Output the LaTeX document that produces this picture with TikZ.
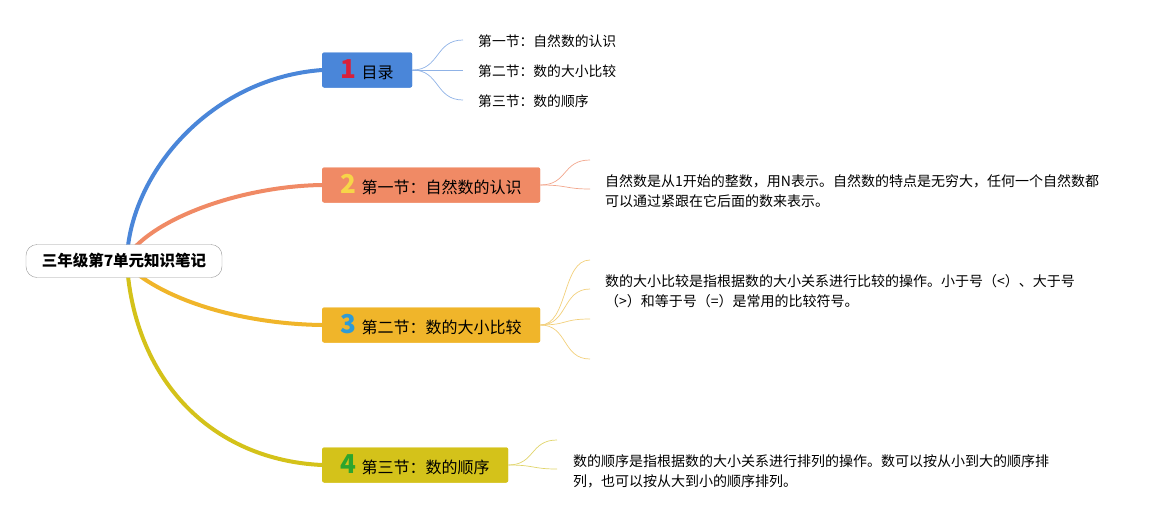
\documentclass[tikz,border=0pt]{standalone}
\usepackage{fontspec}
\setmainfont{Noto Sans CJK SC}
\usetikzlibrary{positioning}
\definecolor{cblue}{HTML}{4A86D9}
\definecolor{corange}{HTML}{F08A65}
\definecolor{cyellow}{HTML}{F0B52A}
\definecolor{colive}{HTML}{D4C21A}
\definecolor{nred}{HTML}{D9203A}
\definecolor{nyellow}{HTML}{F7D548}
\definecolor{nblue}{HTML}{2E9BD6}
\definecolor{ngreen}{HTML}{2DA52D}
\definecolor{lblue}{HTML}{8FB2E6}
\definecolor{lorange}{HTML}{F2A68C}
\definecolor{lyellow}{HTML}{F2CF7A}
\definecolor{lolive}{HTML}{E0D46A}
\tikzset{
  topic/.style={rounded corners=2pt, minimum height=35pt, inner xsep=4pt, font=\fontsize{16}{18}\selectfont, text=black, anchor=west},
  branch/.style={line width=4pt, line cap=round},
  sub/.style={line width=0.7pt},
  leaf/.style={font=\fontsize{13.8}{16}\selectfont, anchor=west, inner sep=0pt},
  desc/.style={font=\fontsize{14}{20}\selectfont, anchor=north west, inner sep=0pt, align=left},
}
\newcommand{\bignum}[2]{{\color{#1}\fontsize{26}{26}\selectfont\bfseries #2}\hspace{5pt}}
\begin{document}
\begin{tikzpicture}[x=1pt,y=-1pt]
\useasboundingbox (0,0) rectangle (1165,520);
% central
\coordinate (cs1) at (128,246);
\coordinate (cs2) at (136,246);
\coordinate (cs3) at (140,276);
\coordinate (cs4) at (128,276);
% topics
\node[topic, fill=cblue, minimum width=90pt] (t1) at (322,70) {\bignum{nred}{1}目录};
\node[topic, fill=corange, minimum width=218pt] (t2) at (322,185) {\bignum{nyellow}{2}第一节：自然数的认识};
\node[topic, fill=cyellow, minimum width=218pt] (t3) at (322,325) {\bignum{nblue}{3}第二节：数的大小比较};
\node[topic, fill=colive, minimum width=186pt] (t4) at (322,465) {\bignum{ngreen}{4}第三节：数的顺序};
% branches
\draw[branch, cblue] (cs1) .. controls (138,165) and (215,78) .. (t1.west);
\draw[branch, corange] (cs2) .. controls (170,212) and (250,186) .. (t2.west);
\draw[branch, cyellow] (cs3) .. controls (180,305) and (250,324) .. (t3.west);
\draw[branch, colive] (cs4) .. controls (140,385) and (215,460) .. (t4.west);
\node[draw=black!40, fill=white, rounded corners=11pt, minimum width=196pt, minimum height=33pt, font=\fontsize{15.5}{17}\selectfont\bfseries] (root) at (124,261) {三年级第7单元知识笔记};
% re-draw topics on top of branch ends
\node[topic, fill=cblue, minimum width=90pt] at (322,70) {\bignum{nred}{1}目录};
\node[topic, fill=corange, minimum width=218pt] at (322,185) {\bignum{nyellow}{2}第一节：自然数的认识};
\node[topic, fill=cyellow, minimum width=218pt] at (322,325) {\bignum{nblue}{3}第二节：数的大小比较};
\node[topic, fill=colive, minimum width=186pt] at (322,465) {\bignum{ngreen}{4}第三节：数的顺序};
% topic 1 leaves
\coordinate (e11) at (463,40);
\coordinate (e12) at (463,70);
\coordinate (e13) at (463,100);
\node[leaf] (l11) at (478,41) {第一节：自然数的认识};
\node[leaf] (l12) at (478,71) {第二节：数的大小比较};
\node[leaf] (l13) at (478,101) {第三节：数的顺序};
\draw[sub, lblue] (t1.east) .. controls (440,70) and (435,40) .. (e11);
\draw[sub, lblue] (t1.east) -- (e12);
\draw[sub, lblue] (t1.east) .. controls (440,70) and (435,100) .. (e13);
% topic 2
\coordinate (e21) at (590,160);
\coordinate (e22) at (590,189);
\draw[sub, lorange] (t2.east) .. controls (568,185) and (562,160) .. (e21);
\draw[sub, lorange] (t2.east) .. controls (568,185) and (565,189) .. (e22);
\node[desc] (d2) at (605,174) {自然数是从1开始的整数，用N表示。自然数的特点是无穷大，任何一个自然数都\\可以通过紧跟在它后面的数来表示。};
% topic 3
\coordinate (e31) at (590,260);
\coordinate (e32) at (590,289);
\coordinate (e33) at (590,319);
\coordinate (e34) at (590,359);
\draw[sub, lyellow] (t3.east) .. controls (568,325) and (562,260) .. (e31);
\draw[sub, lyellow] (t3.east) .. controls (568,325) and (562,289) .. (e32);
\draw[sub, lyellow] (t3.east) .. controls (568,325) and (562,319) .. (e33);
\draw[sub, lyellow] (t3.east) .. controls (568,325) and (562,359) .. (e34);
\node[desc] (d3) at (605,274) {数的大小比较是指根据数的大小关系进行比较的操作。小于号（<）、大于号\\（>）和等于号（=）是常用的比较符号。};
% topic 4
\coordinate (e41) at (557,440);
\coordinate (e42) at (557,469);
\draw[sub, lolive] (t4.east) .. controls (535,465) and (530,440) .. (e41);
\draw[sub, lolive] (t4.east) .. controls (535,465) and (532,469) .. (e42);
\node[desc] (d4) at (573,454) {数的顺序是指根据数的大小关系进行排列的操作。数可以按从小到大的顺序排\\列，也可以按从大到小的顺序排列。};
\end{tikzpicture}
\end{document}
